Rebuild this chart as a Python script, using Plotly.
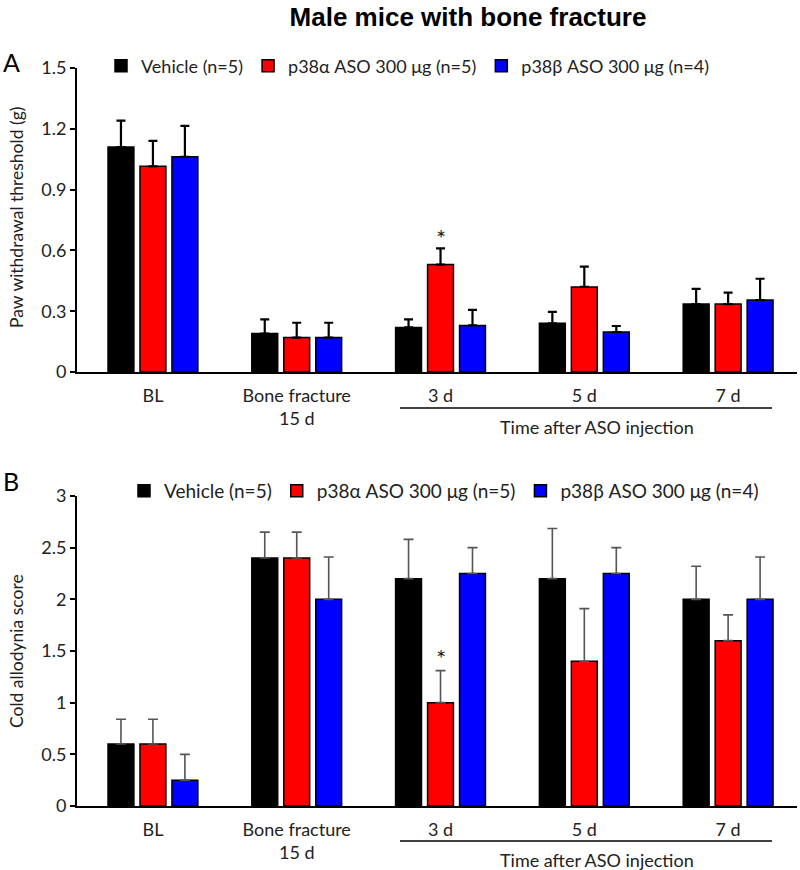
import plotly.graph_objects as go

# ---------------- data ----------------
categories = ["BL", "Bone fracture<br>15 d", "3 d", "5 d", "7 d"]
series_names = ["Vehicle (n=5)", "p38α ASO 300 μg (n=5)", "p38β ASO 300 μg (n=4)"]
series_colors = ["#000000", "#FF0000", "#0000FF"]

# Panel A: paw withdrawal threshold (g)
paw_vehicle = [1.11, 0.19, 0.22, 0.24, 0.335]
paw_vehicle_err = [0.13, 0.07, 0.04, 0.057, 0.075]
paw_alpha = [1.015, 0.17, 0.53, 0.42, 0.335]
paw_alpha_err = [0.125, 0.073, 0.08, 0.1, 0.057]
paw_beta = [1.062, 0.17, 0.23, 0.197, 0.355]
paw_beta_err = [0.152, 0.073, 0.077, 0.03, 0.105]

# Panel B: cold allodynia score
cold_vehicle = [0.6, 2.4, 2.2, 2.2, 2.0]
cold_vehicle_err = [0.24, 0.25, 0.38, 0.485, 0.32]
cold_alpha = [0.6, 2.4, 1.0, 1.4, 1.6]
cold_alpha_err = [0.24, 0.25, 0.31, 0.51, 0.25]
cold_beta = [0.25, 2.0, 2.25, 2.25, 2.0]
cold_beta_err = [0.25, 0.41, 0.25, 0.25, 0.41]

paw_ticks = [0, 0.3, 0.6, 0.9, 1.2, 1.5]
paw_ticktext = ["0", "0.3", "0.6", "0.9", "1.2", "1.5"]
cold_ticks = [0, 0.5, 1, 1.5, 2, 2.5, 3]
cold_ticktext = ["0", "0.5", "1", "1.5", "2", "2.5", "3"]

title_text = "Male mice with bone fracture"
paw_ylabel = "Paw withdrawal threshold (g)"
cold_ylabel = "Cold allodynia score"
time_label = "Time after ASO injection"
sig_category = "3 d"

FONT = "Lato"
W, H = 800, 870
# plot area in page pixels: x 77..797, y 68..806
ML, MT = 77, 68
MR = W - 797
MB = H - 806
PW = W - ML - MR
PH = H - MT - MB


def px(xpage):
    return (xpage - ML) / PW


def py(ypage):
    return (H - MB - ypage) / PH


fig = go.Figure()

paw_vals = [(paw_vehicle, paw_vehicle_err), (paw_alpha, paw_alpha_err), (paw_beta, paw_beta_err)]
cold_vals = [(cold_vehicle, cold_vehicle_err), (cold_alpha, cold_alpha_err), (cold_beta, cold_beta_err)]

for i, (vals, errs) in enumerate(paw_vals):
    fig.add_trace(go.Bar(
        x=categories, y=vals, name=series_names[i],
        marker=dict(color=series_colors[i], line=dict(color="black", width=1.5)),
        error_y=dict(type="data", array=errs, arrayminus=[0] * len(errs), symmetric=False,
                     color="black", thickness=2.2, width=4.5),
        xaxis="x", yaxis="y", legend="legend", offsetgroup=str(i),
    ))

for i, (vals, errs) in enumerate(cold_vals):
    fig.add_trace(go.Bar(
        x=categories, y=vals, name=series_names[i],
        marker=dict(color=series_colors[i], line=dict(color="black", width=1.5)),
        error_y=dict(type="data", array=errs, arrayminus=[0] * len(errs), symmetric=False,
                     color="#555555", thickness=1.6, width=5),
        xaxis="x2", yaxis="y2", legend="legend2", offsetgroup=str(i),
    ))

xr = [-0.528, 4.479]
axis_font = dict(family=FONT, size=18, color="#222222")
common_x = dict(type="category", range=xr, showline=True, linewidth=2, linecolor="black",
                ticks="", showgrid=False, zeroline=False, tickfont=axis_font,
                ticklabelstandoff=6)
common_y = dict(showline=True, linewidth=2, linecolor="black", ticks="outside", ticklen=5,
                tickwidth=2, tickcolor="black", showgrid=False, zeroline=False,
                tickfont=axis_font)

yA0 = py(372)
yB1 = py(496)

fig.update_layout(
    width=W, height=H,
    margin=dict(l=ML, r=MR, t=MT, b=MB),
    paper_bgcolor="white", plot_bgcolor="white",
    barmode="group", bargap=0.333, bargroupgap=0.19,
    font=dict(family=FONT, color="#222222"),
    title=dict(text="<b>" + title_text + "</b>", x=468 / W, xanchor="center",
               xref="container", y=1 - 17 / H, yanchor="middle", yref="container",
               font=dict(family="Liberation Sans", size=26, color="black")),
    xaxis=dict(domain=[0, 1], anchor="y", **common_x),
    yaxis=dict(domain=[yA0, 1], anchor="x", range=[0, 1.5], tickvals=paw_ticks,
               ticktext=paw_ticktext, **common_y),
    xaxis2=dict(domain=[0, 1], anchor="y2", **common_x),
    yaxis2=dict(domain=[0, yB1], anchor="x2", range=[0, 3], tickvals=cold_ticks,
                ticktext=cold_ticktext, **common_y),
    legend=dict(orientation="h", x=px(101), xanchor="left", y=py(66), yanchor="middle",
                font=dict(family=FONT, size=18, color="#222222"), bgcolor="rgba(0,0,0,0)",
                itemclick=False),
    legend2=dict(orientation="h", x=px(124), xanchor="left", y=py(491), yanchor="middle",
                 font=dict(family=FONT, size=19, color="#222222"), bgcolor="rgba(0,0,0,0)",
                 itemclick=False),
    showlegend=True,
)


def note(text, xp, yp, size, angle=0, color="#222222"):
    return dict(text=text, x=px(xp), y=py(yp), xref="paper", yref="paper", showarrow=False,
                xanchor="center", yanchor="middle", textangle=angle,
                font=dict(family=FONT, size=size, color=color))


annotations = [
    note("A", 11, 62, 25, color="black"),
    note("B", 11, 481, 25, color="black"),
    note(paw_ylabel, 16, 218, 17.5, angle=-90),
    note(cold_ylabel, 16, 651, 17.5, angle=-90),
    note(time_label, 597, 427, 18),
    note(time_label, 597, 860, 18),
    dict(text="*", x=sig_category, y=paw_alpha[2] + paw_alpha_err[2], xref="x", yref="y",
         showarrow=False, xanchor="center", yanchor="middle", yshift=11,
         font=dict(family=FONT, size=24, color="#222222")),
    dict(text="*", x=sig_category, y=cold_alpha[2] + cold_alpha_err[2], xref="x2", yref="y2",
         showarrow=False, xanchor="center", yanchor="middle", yshift=13,
         font=dict(family=FONT, size=24, color="#222222")),
]
fig.update_layout(annotations=annotations)

fig.update_layout(shapes=[
    dict(type="line", xref="paper", yref="paper", x0=px(400), x1=px(772), y0=py(408), y1=py(408),
         line=dict(color="black", width=1.5)),
    dict(type="line", xref="paper", yref="paper", x0=px(400), x1=px(772), y0=py(841), y1=py(841),
         line=dict(color="black", width=1.5)),
])

fig.write_html("out.html", config={"displayModeBar": False},
               post_script="document.body.style.margin='0';document.body.style.padding='0';")
